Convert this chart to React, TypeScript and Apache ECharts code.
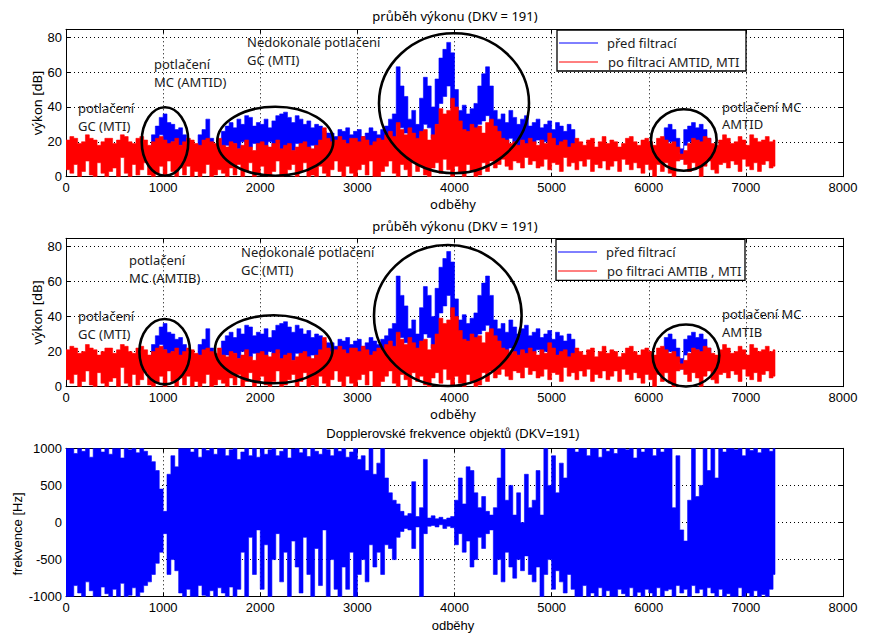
import React, { useEffect, useRef } from "react";
import * as echarts from "echarts";

const N = null;
const BIN = 40; // odběhy per bin: each bin holds the lowest and highest reading
const LAST = 7300; // last odběh recorded

// ---- power (dB), after filtering (red) ----
const redLo = [
  4, 2, 7, 0, 3, 9, 1, 0, 8, 2,
  0, 3, 5, 0, 11, 2, 0, 7, 1, 4,
  8, 1, 0, 2, 6, 0, 9, 3, 0, 5,
  1, 6, 0, 3, 0, 2, 7, 0, 1, 4,
  2, 0, 5, 1, 7, 0, 3, 8, 0, 2,
  6, 1, 0, 3, 9, 0, 1, 4, 7, 0,
  3, 8, 0, 1, 0, 6, 2, 0, 4, 9,
  3, 0, 6, 2, 0, 4, 7, 1, 9, 0,
  0, 3, 6, 9, 2, 0, 7, 4, 0, 8,
  3, 6, 1, 0, 5, 8, 2, 10, 4, 0,
  6, 2, 0, 7, 3, 0, 1, 8, 3, 9,
  5, 7, 10, 6, 4, 9, 8, 5, 11, 7,
  9, 5, 6, 10, 4, 8, 7, 3, 11, 6,
  8, 4, 9, 6, 10, 3, 7, 5, 9, 4,
  6, 9, 3, 10, 7, 4, 8, 5, 2, 7,
  4, 0, 7, 3, 8, 2, 0, 9, 10, 7,
  3, 8, 5, 0, 6, 9, 4, 2, 7, 8,
  5, 9, 7, 3, 10, 6, 4, 8, 3, 7,
  9, 5, 6,
];
const redHi = [
  21, 23, 22, 19, 20, 24, 22, 21, 18, 20,
  22, 22, 19, 21, 24, 23, 20, 19, 22, 23,
  21, 18, 20, 22, 23, 21, 19, 20, 22, 18,
  20, 22, 21, 19, 18, 21, 22, 20, 19, 22,
  18, 17, 20, 19, 16, 18, 21, 17, 15, 19,
  20, 18, 17, 19, 21, 16, 18, 19, 15, 17,
  19, 20, 17, 16, 18, 21, 28, 22, 20, 21,
  23, 21, 19, 22, 22, 20, 23, 21, 18, 20,
  22, 21, 24, 26, 23, 31, 27, 24, 28, 25,
  22, 26, 27, 21, 24, 30, 39, 36, 38, 45,
  40, 32, 27, 26, 30, 28, 29, 25, 31, 33,
  29, 26, 22, 21, 19, 20, 18, 21, 19, 22,
  20, 18, 21, 19, 25, 22, 18, 20, 21, 17,
  19, 22, 20, 18, 21, 22, 17, 20, 23, 19,
  21, 20, 17, 19, 22, 23, 20, 18, 21, 22,
  20, 18, 22, 23, 21, 19, 20, 17, 13, 15,
  19, 22, 21, 20, 23, 22, 19, 18, 21, 24,
  22, 19, 20, 23, 21, 18, 24, 22, 20, 21,
  23, 20, 21,
];

// ---- power (dB), before filtering (blue); null where hidden ----
const blueLo = [
  N, N, N, N, N, N, N, N, N, N,
  N, N, N, N, N, N, N, N, N, N,
  N, N, 18, 20, 24, 21, 18, 20, 16, 18,
  15, 13, N, N, 16, 18, 17, 15, N, N,
  15, 18, 14, 19, 16, 20, 13, 17, 19, 15,
  18, 14, 20, 16, 19, 13, 17, 18, 15, 19,
  14, 17, 16, 18, 13, 16, 15, 12, 17, 19,
  16, 20, 18, 17, 19, 16, 18, 20, 17, 19,
  18, 16, 20, 20, 22, 30, 28, 25, 18, 20,
  16, 24, 30, 28, 22, 30, 42, 46, 52, 40,
  24, 20, 22, 19, 23, 25, 30, 32, 35, 26,
  20, 18, 21, 17, 22, 19, 16, 20, 18, 15,
  19, 21, 17, 20, 16, 18, 15, 19, 17, 14,
  16, N, N, N, N, N, N, N, N, N,
  N, N, N, N, N, N, N, N, N, N,
  N, N, N, 15, 18, 20, 17, 14, 10, 18,
  20, 17, 21, 18, 16, 14, N, N, N, N,
  N, N, N, N, N, N, N, N, N, N,
  N, N, N,
];
const blueHi = [
  N, N, N, N, N, N, N, N, N, N,
  N, N, N, N, N, N, N, N, N, N,
  N, N, 24, 29, 34, 36, 31, 30, 27, 28,
  24, 21, N, N, 24, 27, 33, 22, N, N,
  26, 29, 31, 28, 33, 30, 35, 34, 29, 31,
  30, 33, 28, 32, 35, 36, 37, 34, 31, 35,
  33, 30, 32, 28, 30, 29, 26, 25, 25, 23,
  27, 26, 28, 24, 26, 27, 23, 25, 28, 26,
  24, 27, 29, 33, 36, 63, 52, 46, 33, 38,
  30, 45, 57, 52, 40, 56, 68, 73, 77, 71,
  50, 38, 41, 36, 39, 42, 52, 59, 63, 52,
  38, 33, 36, 31, 38, 34, 30, 33, 35, 29,
  31, 33, 28, 30, 32, 27, 31, 29, 26, 30,
  27, N, N, N, N, N, N, N, N, N,
  N, N, N, N, N, N, N, N, N, N,
  N, N, N, 20, 28, 30, 27, 22, 16, 27,
  29, 31, 28, 30, 27, 22, N, N, N, N,
  N, N, N, N, N, N, N, N, N, N,
  N, N, N,
];

// ---- Doppler frequency (Hz) ----
const dopLo = [
  -1000, -1000, -850, -950, -1000, -800, -920, -1000, -1000, -870,
  -960, -1000, -900, -1000, -820, -1000, -980, -880, -1000, -940,
  -850, -800, -700, -550, -400, -150, -700, -500, -650, -950,
  -1000, -900, -1000, -1000, -850, -980, -1000, -920, -1000, -880,
  -950, -1000, -870, -1000, -900, -400, -1000, -200, -700, -100,
  -900, -300, -1000, -500, -150, -800, -400, -1000, -250, -600,
  -950, -200, -700, -1000, -350, -850, -100, -1000, -500, -900,
  -1000, -600, -900, -400, -1000, -700, -500, -800, -300, -600,
  -400, -700, -300, -350, -500, -200, -120, -80, -100, -350,
  -60, -1000, -150, -50, -40, -60, -30, -80, -50, -70,
  -300, -150, -400, -250, -600, -500, -200, -350, -150, -100,
  -700, -500, -800, -400, -600, -750, -500, -650, -450, -700,
  -800, -600, -1000, -700, -500, -900, -650, -800, -950, -700,
  -900, -1000, -1000, -850, -1000, -950, -1000, -880, -1000, -920,
  -1000, -1000, -900, -960, -1000, -880, -1000, -940, -1000, -900,
  -950, -1000, -880, -1000, -920, -900, -1000, -850, -950, -900,
  -1000, -850, -950, -900, -1000, -880, -950, -1000, -900, -1000,
  -960, -1000, -1000, -880, -1000, -950, -1000, -920, -1000, -970,
  -1000, -900, -700,
];
const dopHi = [
  1000, 1000, 930, 1000, 960, 1000, 880, 1000, 1000, 950,
  1000, 920, 1000, 1000, 870, 1000, 980, 1000, 940, 1000,
  960, 900, 820, 700, 450, 150, 650, 900, 750, 1000,
  1000, 1000, 950, 1000, 880, 1000, 970, 1000, 920, 1000,
  1000, 900, 980, 1000, 850, 950, 1000, 900, 1000, 880,
  1000, 920, 980, 1000, 900, 960, 1000, 870, 990, 1000,
  940, 1000, 890, 1000, 960, 920, 1000, 980, 900, 1000,
  960, 1000, 880, 950, 1000, 850, 900, 700, 1000, 650,
  800, 1000, 600, 400, 300, 250, 150, 90, 120, 550,
  80, 200, 850, 60, 90, 50, 70, 40, 60, 80,
  300, 600, 250, 750, 700, 400, 200, 350, 150, 100,
  200, 600, 1000, 300, 500, 100, 400, 0, 650, 200,
  300, 700, 100, 1000, 500, 900, 400, 800, 600, 1000,
  1000, 950, 1000, 1000, 900, 1000, 1000, 880, 1000, 960,
  1000, 930, 1000, 1000, 980, 1000, 870, 1000, 950, 1000,
  1000, 900, 1000, 950, 1000, 1000, 200, 900, -100, -250,
  300, 1000, 350, 500, 1000, 700, 1000, 600, 1000, 950,
  1000, 1000, 980, 1000, 900, 1000, 970, 1000, 940, 1000,
  1000, 960, 1000,
];

const legend1 = ["před filtrací", "po filtraci AMTID, MTI"];
const legend2 = ["před filtrací", "po filtraci AMTIB , MTI"];

// contiguous runs of recorded bins: [firstBin, lastBin]
function runs(lo: (number | null)[], hi: (number | null)[]) {
  const out: number[][] = [];
  let s = -1;
  for (let i = 0; i <= lo.length; i++) {
    const ok = i < lo.length && lo[i] != null && hi[i] != null;
    if (ok && s < 0) s = i;
    if (!ok && s >= 0) { out.push([s, i - 1]); s = -1; }
  }
  return out;
}

const TICK_FONT = "Liberation Sans, Arial, sans-serif";
const SEGOE = "Noto Sans, Open Sans, sans-serif";
const TXT = "#1c1c1c";

export default function App() {
  const ref = useRef<HTMLDivElement>(null);
  useEffect(() => {
    document.body.style.margin = "0";
    const chart = echarts.init(ref.current!, null, { renderer: "svg" });
    const grids = [
      { left: 66, top: 29.3, width: 777, height: 147.4 },
      { left: 66, top: 238.3, width: 777, height: 148.4 },
      { left: 66, top: 448.3, width: 777, height: 148.4 },
    ];
    const dotted = { color: "#000", width: 1, type: [1, 3] };
    const yRanges = [
      { min: 0, max: 84.5, interval: 20 },
      { min: 0, max: 84.5, interval: 20 },
      { min: -1000, max: 1000, interval: 500 },
    ];
    const plain = (v: number) => String(v);
    const xAxis: any[] = [];
    const yAxis: any[] = [];
    grids.forEach((_, g) => {
      xAxis.push({
        type: "value", gridIndex: g, min: 0, max: 8000, interval: 1000,
        axisLine: { onZero: false, lineStyle: { color: "#000", width: 1 } },
        axisTick: { inside: true, length: 4, lineStyle: { color: "#000" } },
        axisLabel: { color: "#000", fontSize: 13, fontFamily: TICK_FONT, margin: 4, formatter: plain },
        splitLine: { show: true, lineStyle: dotted },
      });
      xAxis.push({
        type: "value", gridIndex: g, position: "top", min: 0, max: 8000, interval: 1000,
        axisLine: { onZero: false, lineStyle: { color: "#000", width: 1 } },
        axisTick: { inside: true, length: 4, lineStyle: { color: "#000" } },
        axisLabel: { show: false }, splitLine: { show: false },
      });
      yAxis.push({
        type: "value", gridIndex: g, ...yRanges[g],
        axisLine: { onZero: false, lineStyle: { color: "#000", width: 1 } },
        axisTick: { inside: true, length: 4, lineStyle: { color: "#000" } },
        axisLabel: { color: "#000", fontSize: 13, fontFamily: TICK_FONT, margin: 4, showMaxLabel: g === 2, formatter: plain },
        splitLine: { show: true, lineStyle: dotted },
      });
      yAxis.push({
        type: "value", gridIndex: g, position: "right", ...yRanges[g],
        axisLine: { onZero: false, lineStyle: { color: "#000", width: 1 } },
        axisTick: { inside: true, length: 4, lineStyle: { color: "#000" } },
        axisLabel: { show: false }, splitLine: { show: false },
      });
    });
    // each run of bins is drawn as one stepped shape: per bin, a span from its lowest to its highest reading
    const spans = (ax: number, lo: (number | null)[], hi: (number | null)[], color: string) => ({
      type: "custom", xAxisIndex: ax, yAxisIndex: ax, silent: true, clip: true,
      data: runs(lo, hi),
      renderItem: (_p: any, api: any) => {
        const s = api.value(0);
        const e = api.value(1);
        const top: number[][] = [];
        const bot: number[][] = [];
        for (let i = s; i <= e; i++) {
          const x0 = i * BIN;
          const x1 = Math.min((i + 1) * BIN, LAST);
          top.push(api.coord([x0, hi[i]]), api.coord([x1, hi[i]]));
          bot.push(api.coord([x0, lo[i]]), api.coord([x1, lo[i]]));
        }
        return {
          type: "polygon",
          shape: { points: top.concat(bot.reverse()) },
          style: { fill: color, stroke: color, lineWidth: 0.6 },
        };
      },
    });
    const series = [
      spans(0, blueLo, blueHi, "#0000ff"),
      spans(0, redLo, redHi, "#ff0000"),
      spans(2, blueLo, blueHi, "#0000ff"),
      spans(2, redLo, redHi, "#ff0000"),
      spans(4, dopLo, dopHi, "#0000ff"),
    ];

    const text = (x: number, y: number, t: string, opts: any = {}) => ({
      type: "text", x, y, rotation: opts.rotation || 0, z: opts.z || 120,
      style: {
        text: t, fill: opts.fill || TXT, fontSize: opts.size || 13,
        fontFamily: opts.family || SEGOE, align: opts.align || "left", verticalAlign: "middle",
      },
    });
    const ell = (cx: number, cy: number, rx: number, ry: number) => ({
      type: "ellipse", z: 110, shape: { cx, cy, rx, ry },
      style: { fill: "none", stroke: "#000", lineWidth: 2.6 },
    });
    const legend = (x: number, y: number, labels: string[], y1: number, y2: number) => [
      { type: "rect", z: 105, shape: { x, y, width: 189, height: 41 }, style: { fill: "#fff", stroke: "#000", lineWidth: 1.3 } },
      { type: "line", z: 106, shape: { x1: x + 2, y1, x2: x + 41, y2: y1 }, style: { stroke: "#0000ff", lineWidth: 1 } },
      { type: "line", z: 106, shape: { x1: x + 2, y1: y2, x2: x + 41, y2: y2 }, style: { stroke: "#ff0000", lineWidth: 1 } },
      text(x + 50, y1, labels[0], { z: 130 }),
      text(x + 51, y2, labels[1], { z: 130 }),
    ];

    const graphic: any[] = [
      text(455, 15.5, "průběh výkonu (DKV = 191)", { align: "center", fill: "#000" }),
      text(455, 226, "průběh výkonu (DKV = 191)", { align: "center", fill: "#000" }),
      text(453, 433.5, "Dopplerovské frekvence objektů (DKV=191)", { align: "center", fill: "#000", family: TICK_FONT }),
      text(453, 204, "odběhy", { align: "center", fill: "#000" }),
      text(453, 414, "odběhy", { align: "center", fill: "#000" }),
      text(453, 625, "odběhy", { align: "center", fill: "#000", family: TICK_FONT }),
      text(37, 103, "výkon [dB]", { align: "center", fill: "#000", rotation: Math.PI / 2 }),
      text(37, 312.5, "výkon [dB]", { align: "center", fill: "#000", rotation: Math.PI / 2 }),
      text(17, 534, "frekvence [Hz]", { align: "center", fill: "#000", rotation: Math.PI / 2, family: TICK_FONT }),
      // annotations plot 1
      text(78, 108, "potlačení"), text(78, 126, "GC (MTI)"),
      text(154, 64, "potlačení"), text(154, 82, "MC (AMTID)"),
      text(247, 42, "Nedokonalé potlačení"), text(247, 60, "GC (MTI)"),
      text(722, 107, "potlačení MC"), text(722, 124, "AMTID"),
      // annotations plot 2
      text(78, 316, "potlačení"), text(78, 334, "GC (MTI)"),
      text(129, 260, "potlačení"), text(129, 278, "MC (AMTIB)"),
      text(241, 252, "Nedokonalé potlačení"), text(241, 270, "GC (MTI)"),
      text(722, 314, "potlačení MC"), text(722, 332, "AMTIB"),
      ...legend(557, 30, legend1, 43, 62),
      ...legend(556, 239.3, legend2, 252, 271),
      ell(165, 141.5, 23.3, 34.2), ell(275.3, 141.2, 58, 34.5), ell(454, 103.3, 75, 70), ell(683.8, 140, 32.8, 30.7),
      ell(164.7, 351.7, 25.3, 32.7), ell(273.8, 349.3, 58.8, 34), ell(447.8, 315.5, 73.8, 70.5), ell(686, 355.5, 33.3, 31),
    ];

    chart.setOption({
      animation: false,
      backgroundColor: "#fff",
      grid: grids,
      xAxis,
      yAxis,
      series,
      graphic,
    });
    return () => chart.dispose();
  }, []);
  return <div ref={ref} style={{ width: 878, height: 641 }} />;
}
